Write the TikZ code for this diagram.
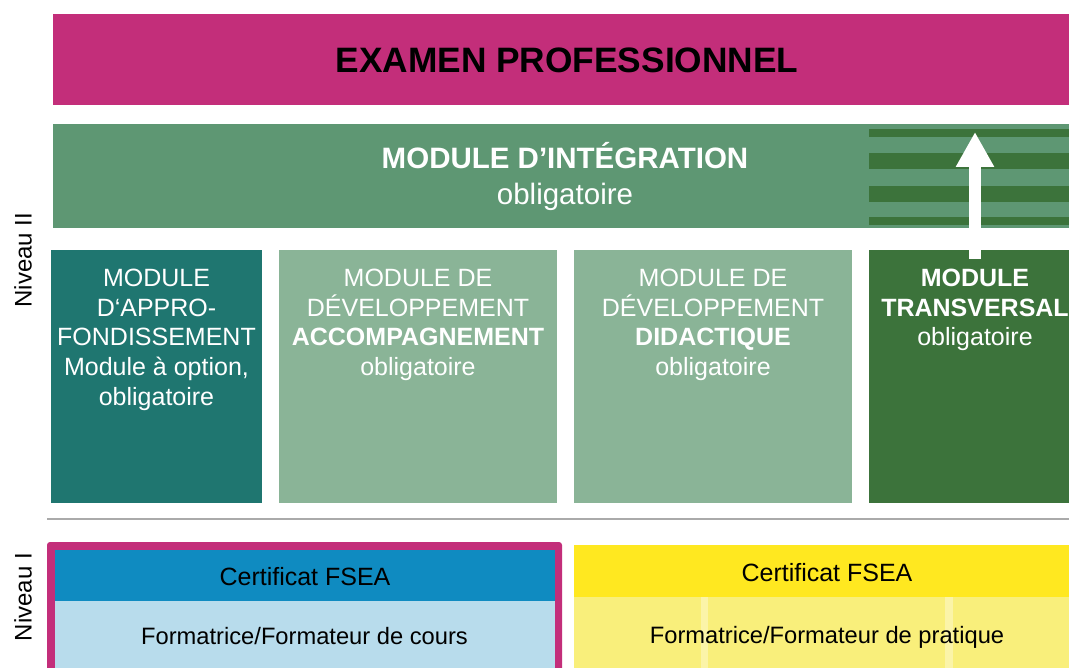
\documentclass[tikz,border=0pt]{standalone}
\usepackage{fontspec}
\setmainfont{Liberation Sans}
\usetikzlibrary{arrows.meta}
\definecolor{cMag}{HTML}{C32E7A}
\definecolor{cInt}{HTML}{5E9773}
\definecolor{cDark}{HTML}{3C733B}
\definecolor{cTeal}{HTML}{1F7670}
\definecolor{cLight}{HTML}{8AB497}
\definecolor{cBlue}{HTML}{0F8BC1}
\definecolor{cLBlue}{HTML}{B8DCEC}
\definecolor{cYel}{HTML}{FFE820}
\definecolor{cLYel}{HTML}{F9EF7B}
\definecolor{cYLine}{HTML}{FBF4A8}
\definecolor{cSep}{HTML}{AAAAAA}
\tikzset{
  boxst/.style={draw=none, inner sep=0pt, outer sep=0pt, anchor=north west},
  modtxt/.style={inner sep=0pt, anchor=north, align=center, text=white,
    font=\fontsize{25}{29.8}\selectfont},
  inttxt/.style={inner sep=0pt, anchor=base, text=white, font=\fontsize{29.5}{33}\selectfont},
  lowtxt/.style={inner sep=0pt, anchor=base, text=black, font=\fontsize{23.7}{28}\selectfont},
  certtxt/.style={inner sep=0pt, anchor=base, text=black, font=\fontsize{25}{28}\selectfont},
  lvltxt/.style={inner sep=0pt, rotate=90, text=black, font=\fontsize{24}{28}\selectfont}
}
\begin{document}
\begin{tikzpicture}[x=1pt,y=-1pt]
\clip (0,0) rectangle (1069,668);
\fill[white] (0,0) rectangle (1069,668);
% top bar
\node[boxst, fill=cMag, minimum width=1016pt, minimum height=91pt] (exam) at (53,14) {};
\node[inner sep=0pt, anchor=base, font=\fontsize{35.3}{40}\selectfont\bfseries] (examt) at (567,73) {EXAMEN PROFESSIONNEL};
% integration bar
\node[boxst, fill=cInt, minimum width=1016pt, minimum height=104pt] (integ) at (53,124) {};
\fill[cDark] (869,129) rectangle (1069,137);
\fill[cDark] (869,153) rectangle (1069,169);
\fill[cDark] (869,186) rectangle (1069,202);
\fill[cDark] (869,217) rectangle (1069,225);
\node[inttxt, font=\fontsize{29.5}{33}\selectfont\bfseries] (integt) at (565,169) {MODULE D’INTÉGRATION};
\node[inttxt] (intego) at (565,205) {obligatoire};
% modules
\node[boxst, fill=cTeal, minimum width=211pt, minimum height=253pt] (m1) at (51,250) {};
\node[boxst, fill=cLight, minimum width=278pt, minimum height=253pt] (m2) at (279,250) {};
\node[boxst, fill=cLight, minimum width=278pt, minimum height=253pt] (m3) at (574,250) {};
\node[boxst, fill=cDark, minimum width=200pt, minimum height=253pt] (m4) at (869,250) {};
\node[modtxt] (m1t) at (156.5,268.7) {MODULE\\D‘APPRO-\\FONDISSEMENT\\Module à option,\\obligatoire};
\node[modtxt] (m2t) at (418,268.7) {MODULE DE\\DÉVELOPPEMENT\\\textbf{ACCOMPAGNEMENT}\\obligatoire};
\node[modtxt] (m3t) at (713,268.7) {MODULE DE\\DÉVELOPPEMENT\\\textbf{DIDACTIQUE}\\obligatoire};
\node[modtxt] (m4t) at (975,268.7) {\textbf{MODULE}\\\textbf{TRANSVERSAL}\\obligatoire};
% arrow
\coordinate (arrS) at (975,259);
\coordinate (arrE) at (975,132);
\draw[white, line width=12pt, -{Triangle[width=36pt,length=35pt]}] (arrS) -- (arrE);
% separator
\draw[cSep, line width=1.2pt] (47,519) -- (1069,519);
% level labels
\node[lvltxt] (n2) at (23,260) {Niveau II};
\node[lvltxt] (n1) at (23,597) {Niveau I};
% bottom left
\node[boxst, fill=cMag, rounded corners=3pt, minimum width=515pt, minimum height=140pt] (lframe) at (47,542) {};
\node[boxst, fill=cBlue, minimum width=500pt, minimum height=51pt] (lcert) at (55,550) {};
\node[boxst, fill=cLBlue, minimum width=500pt, minimum height=80pt] (lform) at (55,601) {};
\node[certtxt] (lcertt) at (305,585) {Certificat FSEA};
\node[lowtxt] (lformt) at (304.5,644) {Formatrice/Formateur de cours};
% bottom right
\node[boxst, fill=cYel, minimum width=495pt, minimum height=52pt] (rcert) at (574,545) {};
\node[boxst, fill=cLYel, minimum width=495pt, minimum height=80pt] (rform) at (574,597) {};
\fill[cYLine] (701,597) rectangle (708,668);
\fill[cYLine] (945,597) rectangle (953,668);
\node[certtxt] (rcertt) at (827,581) {Certificat FSEA};
\node[lowtxt] (rformt) at (827,643) {Formatrice/Formateur de pratique};
\end{tikzpicture}
\end{document}
